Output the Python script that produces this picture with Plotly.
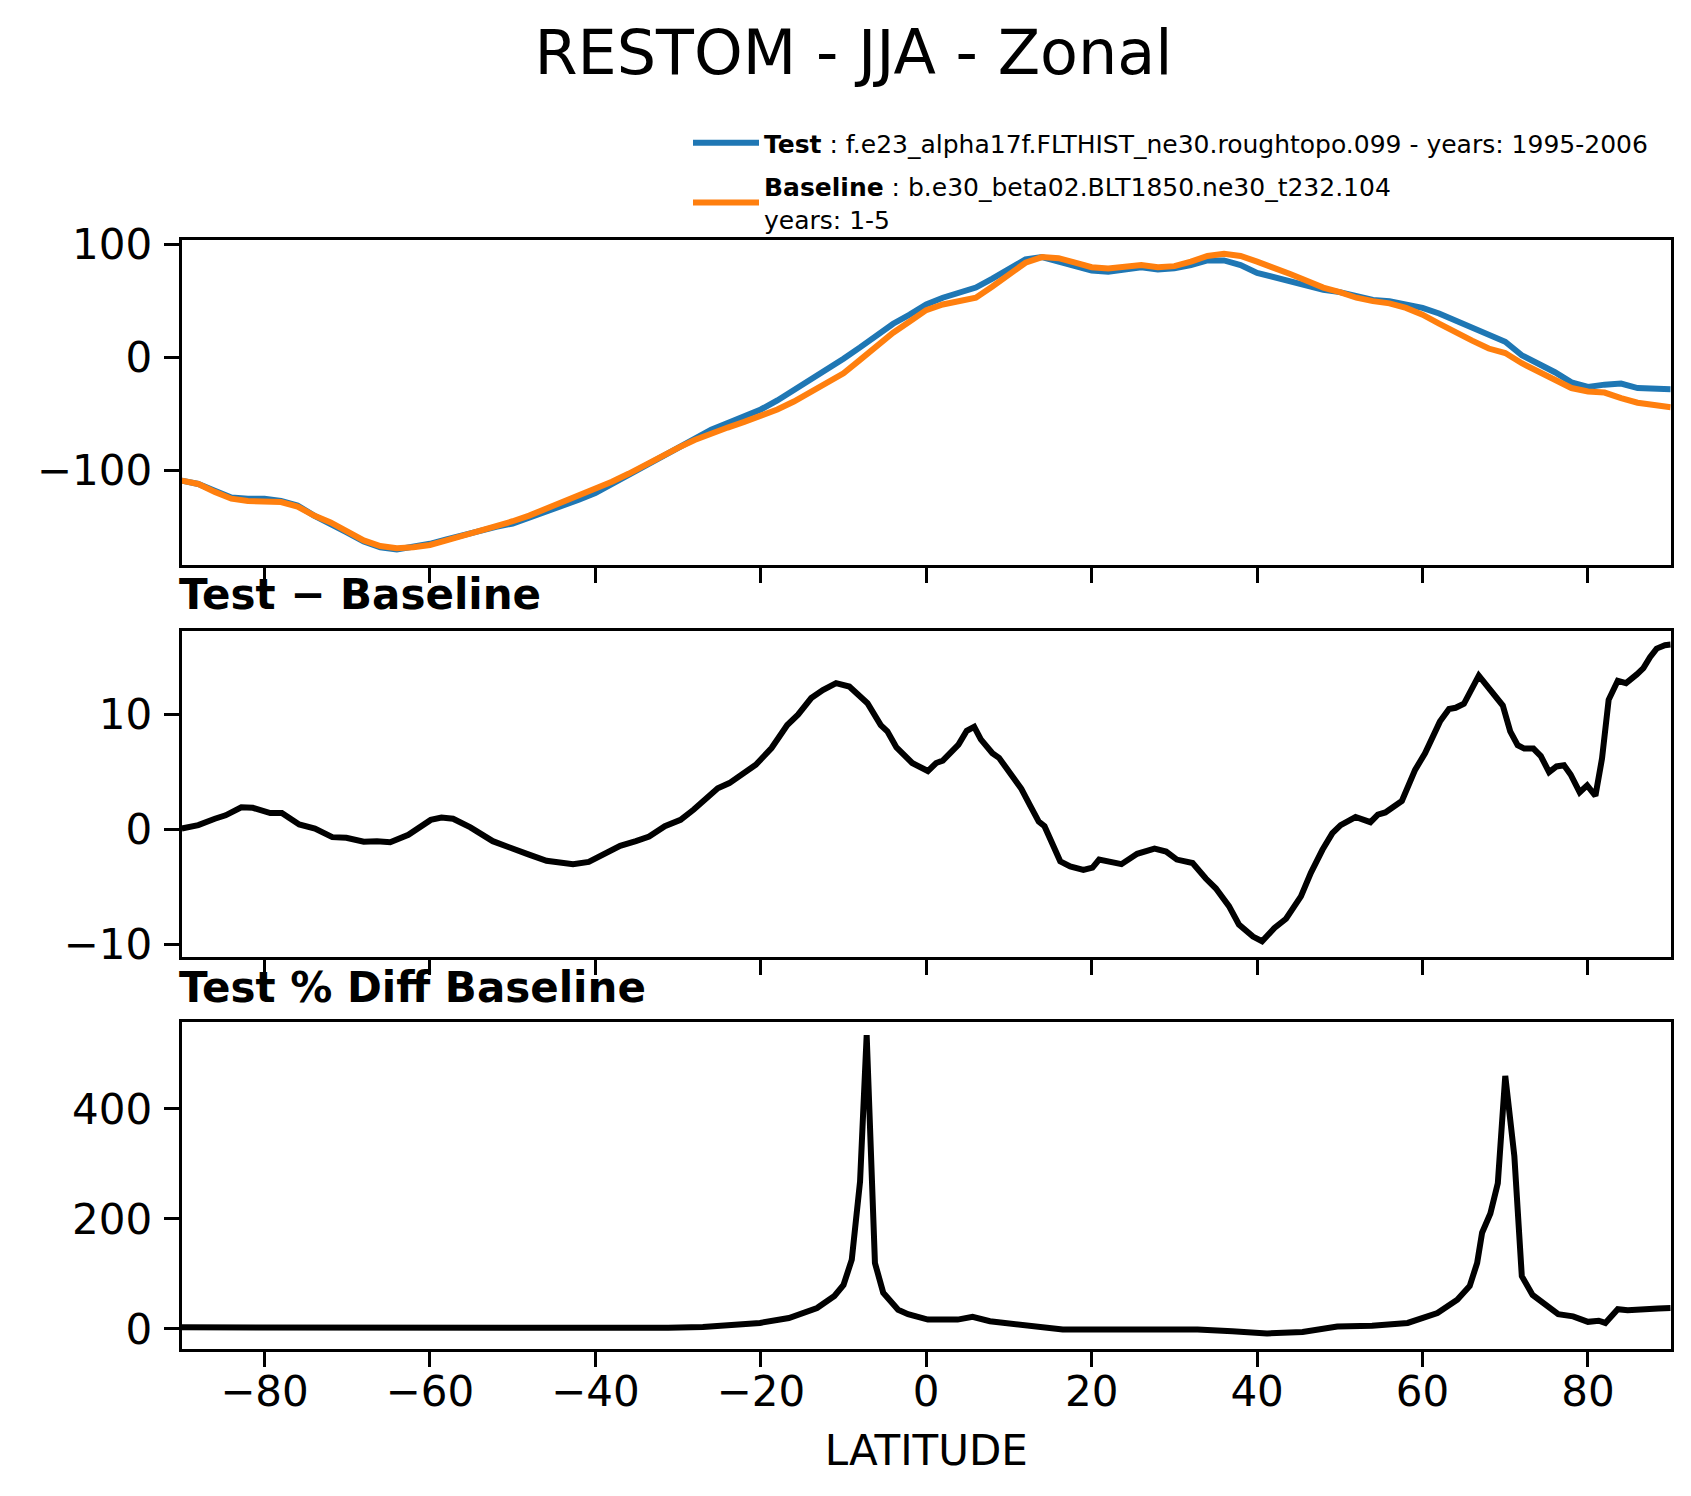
import plotly.graph_objects as go

# zonal mean RESTOM, JJA
lat = [-90, -88, -86, -84, -82, -80, -78, -76, -74, -72, -70, -68, -66, -64, -62, -60,
       -58, -56, -54, -52, -50, -48, -46, -44, -42, -40, -38, -36, -34, -32, -30, -28,
       -26, -24, -22, -20, -18, -16, -14, -12, -10, -8, -6, -4, -2, 0, 2, 4, 6, 8, 10,
       12, 14, 16, 18, 20, 22, 24, 26, 28, 30, 32, 34, 36, 38, 40, 42, 44, 46, 48, 50,
       52, 54, 56, 58, 60, 62, 64, 66, 68, 70, 72, 74, 76, 78, 80, 82, 84, 86, 88, 90]

test = [-109, -112, -118, -124, -125, -125, -127, -131, -140, -147, -155, -163, -168, -170,
        -168, -165, -161, -157, -153, -150, -147, -142, -137, -132, -126, -120, -112, -104,
        -96, -87, -79, -71, -64, -58, -52, -46, -38, -29, -20, -11, -1, 9, 20, 30, 38, 47,
        53, 57, 62, 70, 79, 87, 89, 85, 81, 77, 76, 78, 80, 78, 79, 82, 86, 86, 82, 75, 71,
        67, 64, 60, 58, 54, 51, 50, 47, 44, 39, 33, 27, 20, 14, 2, -5, -13, -22, -26, -24,
        -23, -27, -27, -28]

base = [-109, -112, -119, -125, -127, -127, -128, -132, -140, -146, -154, -162, -167, -169,
        -168, -166, -162, -158, -153, -149, -145, -140, -134, -129, -123, -117, -110, -103,
        -95, -87, -80, -73, -67, -62, -57, -52, -46, -39, -31, -23, -14, -2, 10, 22, 32, 42,
        47, 50, 53, 63, 74, 84, 89, 88, 84, 80, 79, 81, 82, 80, 81, 85, 90, 92, 90, 85, 80,
        74, 68, 62, 58, 53, 50, 48, 44, 38, 30, 22, 15, 8, 4, -5, -12, -19, -27, -30, -31,
        -36, -40, -42, -44]

# Test - Baseline
lat_diff = [-90, -88, -86, -84.7, -82.8, -81.4, -79.3, -77.9, -75.8, -73.9, -71.8, -70.1,
            -68, -66.4, -64.8, -62.6, -59.9, -58.6, -57.2, -55.1, -52.4, -50.5, -48.1,
            -45.9, -44.3, -42.7, -40.8, -39.2, -37, -35.1, -33.5, -31.6, -29.7, -28.1,
            -25.2, -23.8, -22.2, -20.6, -18.7, -16.8, -15.5, -13.9, -12.5, -10.9, -9.3,
            -7.1, -5.5, -4.7, -3.6, -1.7, 0.2, 1.2, 2.0, 3.9, 4.9, 5.8, 6.6, 8.0, 8.8, 10.1,
            11.5, 12.6, 13.6, 14.3, 16.2, 17.4, 19.0, 20.1, 20.9, 23.6, 25.5, 27.6, 29.0,
            30.3, 32.2, 33.8, 35.0, 36.6, 37.8, 39.5, 40.6, 42.1, 43.5, 45.3, 46.5, 47.9,
            49.1, 50.1, 51.9, 53.7, 54.6, 55.5, 57.5, 59.1, 60.3, 62.1, 63.2, 64.0, 65.0,
            66.8, 68.6, 69.7, 70.6, 71.5, 72.3, 73.4, 74.3, 75.3, 76.2, 77.1, 77.9, 79.0,
            79.9, 80.9, 81.7, 82.5, 83.6, 84.6, 85.9, 86.7, 87.5, 88.3, 89.3, 90]
diff = [0.1, 0.4, 0.95, 1.25, 1.95, 1.9, 1.45, 1.45, 0.45, 0.1, -0.65, -0.7, -1.05, -1.0,
        -1.1, -0.45, 0.85, 1.05, 0.95, 0.2, -1.0, -1.45, -2.15, -2.7, -2.8, -3.0, -2.8,
        -2.25, -1.4, -1.0, -0.6, 0.3, 0.85, 1.75, 3.6, 4.05, 4.9, 5.65, 7.1, 9.1, 10.0,
        11.45, 12.15, 12.75, 12.45, 11.0, 9.1, 8.55, 7.15, 5.8, 5.1, 5.8, 6.0, 7.4, 8.6,
        8.95, 7.85, 6.65, 6.25, 4.85, 3.55, 2.05, 0.7, 0.3, -2.75, -3.2, -3.5, -3.3, -2.6,
        -3.0, -2.1, -1.65, -1.9, -2.6, -2.9, -4.25, -5.1, -6.65, -8.25, -9.3, -9.7, -8.55,
        -7.75, -5.8, -3.75, -1.75, -0.3, 0.4, 1.1, 0.65, 1.3, 1.5, 2.5, 5.2, 6.65, 9.4,
        10.5, 10.6, 10.95, 13.4, 11.9, 10.8, 8.55, 7.35, 7.05, 7.05, 6.4, 5.0, 5.5, 5.6,
        4.8, 3.25, 3.85, 2.95, 6.2, 11.3, 12.95, 12.75, 13.5, 14.05, 15.0, 15.75, 16.05, 16.1]

# Test % Diff Baseline
lat_pct = [-90, -80, -70, -59, -50, -41.6, -36, -31.2, -27, -24.3, -20.1, -16.6, -13.2,
           -11.1, -10.0, -9.0, -8.0, -7.2, -6.2, -5.2, -3.4, -2.2, 0.2, 3.8, 5.6, 7.7,
           12.2, 16.5, 20.7, 27.9, 32.8, 37.0, 41.2, 45.5, 49.7, 53.9, 58.2, 61.8, 64.2,
           65.7, 66.6, 67.2, 68.2, 69.1, 70.0, 71.1, 72.0, 73.3, 76.4, 78.2, 80.0, 81.3,
           82.1, 83.6, 84.8, 88.5, 90]
pct = [3, 3, 2, 2.5, 1.5, 0.5, 1, 2, 3.5, 6, 11, 20, 38, 60, 80, 126, 268, 534, 120, 66,
       35, 27, 17, 17, 22, 14, 7, -1, -1, 0.5, -1, -4, -8, -5.5, 4.5, 6, 11, 29, 53, 78,
       120, 175, 210, 265, 460, 314, 96, 62, 27, 23, 13, 15, 11, 36, 34, 37, 38]

x_ticks = [-80, -60, -40, -20, 0, 20, 40, 60, 80]

W, H = 1691, 1496
FONT = "DejaVu Sans"
x_dom = [173.75 / W, 1662.7 / W]

fig = go.Figure()
fig.add_trace(go.Scatter(x=lat, y=test, mode="lines", line=dict(color="#1f77b4", width=6),
                         name="<b>Test</b> : f.e23_alpha17f.FLTHIST_ne30.roughtopo.099 - years: 1995-2006",
                         legendgroup="t", xaxis="x", yaxis="y"))
fig.add_trace(go.Scatter(x=lat, y=base, mode="lines", line=dict(color="#ff7f0e", width=6),
                         name="<b>Baseline</b> : b.e30_beta02.BLT1850.ne30_t232.104<br>years: 1-5",
                         legendgroup="b", xaxis="x", yaxis="y"))
fig.add_trace(go.Scatter(x=lat_diff, y=diff, mode="lines", line=dict(color="black", width=6),
                         showlegend=False, xaxis="x2", yaxis="y2"))
fig.add_trace(go.Scatter(x=lat_pct, y=pct, mode="lines", line=dict(color="black", width=6),
                         showlegend=False, xaxis="x3", yaxis="y3"))

axis_style = dict(showline=True, linecolor="black", linewidth=3.3, mirror=True,
                  ticks="outside", ticklen=15, tickwidth=3.3, tickcolor="black",
                  showgrid=False, zeroline=False, automargin=False,
                  tickfont=dict(family=FONT, size=42, color="black"))


def xax(anchor, labels):
    return dict(axis_style, domain=x_dom, range=[-90, 90], anchor=anchor,
                tickvals=x_ticks, showticklabels=labels, ticklabelstandoff=-12)


def yax(anchor, dom, rng, ticks):
    return dict(axis_style, domain=dom, range=rng, anchor=anchor, tickvals=ticks,
                ticklabelstandoff=3)


fig.update_layout(
    width=W, height=H,
    margin=dict(l=0, r=0, t=0, b=0, pad=0),
    paper_bgcolor="white", plot_bgcolor="white",
    font=dict(family=FONT, color="black"),
    xaxis=xax("y", False),
    xaxis2=xax("y2", False),
    xaxis3=dict(xax("y3", True),
                title=dict(text="LATITUDE", font=dict(family=FONT, size=42), standoff=22)),
    yaxis=yax("x", [1 - 556.7 / H, 1 - 231.7 / H], [-183.5, 104.4], [-100, 0, 100]),
    yaxis2=yax("x2", [1 - 949.3 / H, 1 - 623 / H], [-11.1, 17.28], [-10, 0, 10]),
    yaxis3=yax("x3", [1 - 1341 / H, 1 - 1014 / H], [-36.4, 558], [0, 200, 400]),
    title=dict(text="RESTOM - JJA - Zonal", x=0.5, xanchor="center",
               y=1 - 44 / H, yanchor="middle", automargin=False,
               font=dict(family=FONT, size=62, color="black")),
    legend=dict(x=680 / W, y=1 - 112 / H, xanchor="left", yanchor="top",
                bgcolor="rgba(0,0,0,0)", font=dict(family=FONT, size=25, color="black"),
                traceorder="grouped", tracegroupgap=8, itemwidth=66),
    showlegend=True,
)

for txt, yc in [("Test \u2212 Baseline", 586.6), ("Test % Diff Baseline", 979.4)]:
    fig.add_annotation(text="<b>" + txt + "</b>", xref="paper", yref="paper",
                       x=(x_dom[0] * W - 5) / W, y=1 - yc / H, xanchor="left", yanchor="middle",
                       showarrow=False, font=dict(family=FONT, size=42, color="black"))

fig.write_html("out.html")
